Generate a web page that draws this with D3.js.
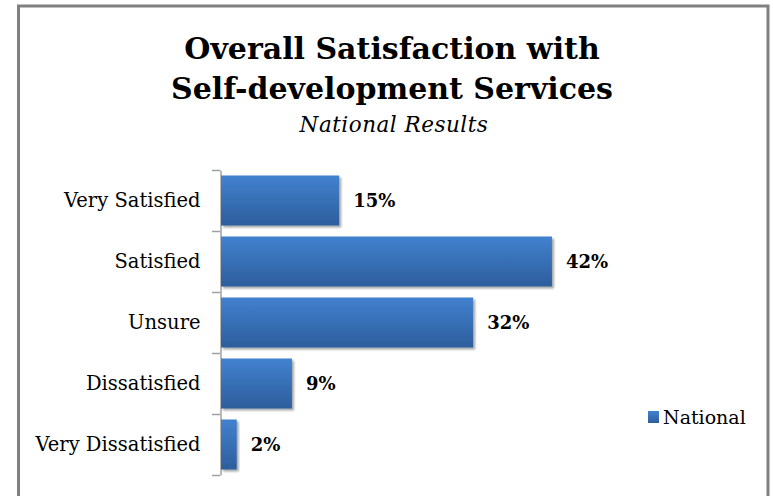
<!DOCTYPE html>
<html>
<head>
<meta charset="utf-8">
<script src="https://cdn.jsdelivr.net/npm/d3@7"></script>
<style>
  html, body { margin: 0; padding: 0; background: #fff; }
  svg { display: block; }
</style>
</head>
<body>
<svg id="chart" width="773" height="496"></svg>
<script>
// Survey answers, top to bottom
const categories = ["Very Satisfied", "Satisfied", "Unsure", "Dissatisfied", "Very Dissatisfied"];
// Share of respondents (national)
const values = [0.15, 0.42, 0.32, 0.09, 0.02];
const seriesName = "National";
const titleLines = ["Overall Satisfaction with", "Self-development Services"];
const subtitle = "National Results";

const W = 773, H = 496;
const svg = d3.select("#chart");
const serif = "'DejaVu Serif', 'Liberation Serif', serif";

// gradient fill and soft shadow for the bars
const defs = svg.append("defs");
const grad = defs.append("linearGradient")
  .attr("id", "barFill").attr("x1", 0).attr("y1", 0).attr("x2", 0).attr("y2", 1);
grad.append("stop").attr("offset", "0%").attr("stop-color", "#4281cf");
grad.append("stop").attr("offset", "100%").attr("stop-color", "#2d5e9c");

const shadow = defs.append("filter").attr("id", "barShadow")
  .attr("x", "-10%").attr("y", "-10%").attr("width", "130%").attr("height", "140%");
shadow.append("feGaussianBlur").attr("in", "SourceAlpha").attr("stdDeviation", 1.3).attr("result", "b");
shadow.append("feOffset").attr("in", "b").attr("dx", 1.5).attr("dy", 2).attr("result", "o");
shadow.append("feComponentTransfer").attr("in", "o").attr("result", "s")
  .append("feFuncA").attr("type", "linear").attr("slope", 0.35);
const merge = shadow.append("feMerge");
merge.append("feMergeNode").attr("in", "s");
merge.append("feMergeNode").attr("in", "SourceGraphic");

// outer frame
svg.append("rect")
  .attr("x", 18.5).attr("y", 6).attr("width", 749.5).attr("height", H + 20)
  .attr("fill", "#fff").attr("stroke", "#808080").attr("stroke-width", 3);

// titles
const title = svg.append("text")
  .attr("text-anchor", "middle")
  .attr("font-family", serif).attr("font-weight", "bold")
  .attr("font-size", 30).attr("fill", "#000");
titleLines.forEach((t, i) => {
  title.append("tspan").attr("x", 392).attr("y", 59 + i * 40).text(t);
});
svg.append("text")
  .attr("x", 394).attr("y", 132)
  .attr("text-anchor", "middle")
  .attr("font-family", serif).attr("font-style", "italic")
  .attr("letter-spacing", 0.5)
  .attr("font-size", 21.5).attr("fill", "#000")
  .text(subtitle);

// scales
const x = d3.scaleLinear().domain([0, 0.5]).range([221, 615]);
const y = d3.scaleBand().domain(categories).range([170, 475]).paddingInner(0.18).paddingOuter(0.09);

// category axis
const axis = d3.axisLeft(y).tickSize(0).tickPadding(20);
const gAxis = svg.append("g").attr("transform", "translate(220.5,0)").call(axis);
gAxis.select(".domain").attr("stroke", "#a0a0a0").attr("stroke-width", 1.5);
gAxis.selectAll("text")
  .attr("font-family", serif).attr("font-size", 19.5).attr("fill", "#000");

// tick marks between categories
const bounds = categories.map(c => y(c) - y.step() * y.paddingInner() / 2);
bounds.push(475);
bounds[0] = 170;
svg.append("g").selectAll("line").data(bounds).join("line")
  .attr("x1", 212).attr("x2", 220)
  .attr("y1", d => Math.round(d) + 0.5).attr("y2", d => Math.round(d) + 0.5)
  .attr("stroke", "#a0a0a0").attr("stroke-width", 1.5);

// bars
svg.append("g").selectAll("rect").data(values).join("rect")
  .attr("x", x(0))
  .attr("y", (d, i) => y(categories[i]))
  .attr("width", d => x(d) - x(0))
  .attr("height", y.bandwidth())
  .attr("fill", "url(#barFill)")
  .attr("filter", "url(#barShadow)");

// value labels
svg.append("g").selectAll("text").data(values).join("text")
  .attr("x", d => x(d) + 14)
  .attr("y", (d, i) => y(categories[i]) + y.bandwidth() / 2)
  .attr("dy", "0.36em")
  .attr("font-family", serif).attr("font-weight", "bold")
  .attr("font-size", 18).attr("fill", "#000")
  .text(d => d3.format(".0%")(d));

// legend
const lg = svg.append("g").attr("transform", "translate(648,411)");
lg.append("rect").attr("width", 11).attr("height", 12).attr("fill", "url(#barFill)");
lg.append("text").attr("x", 15).attr("y", 6).attr("dy", "0.36em")
  .attr("font-family", serif).attr("font-size", 19).attr("fill", "#000")
  .text(seriesName);
</script>
</body>
</html>
